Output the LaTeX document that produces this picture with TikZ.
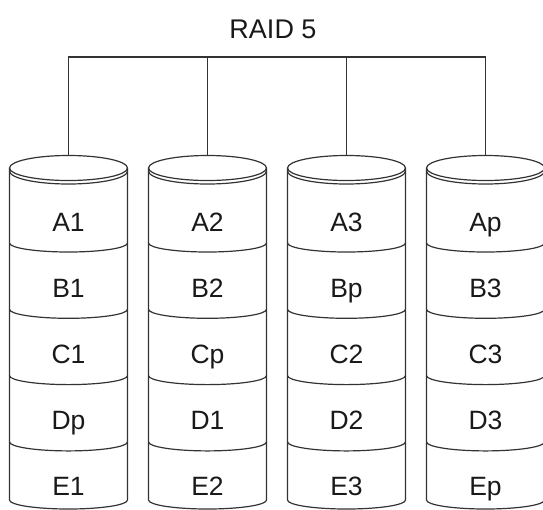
\documentclass[tikz,border=0pt]{standalone}
\usepackage{fontspec}
\setmainfont{Liberation Sans}
\begin{document}
\begin{tikzpicture}[x=1pt,y=-1pt,disk/.style={draw=black!80,line width=1.2pt},cell/.style={font=\fontsize{26.5}{30}\selectfont,text=black!90,inner sep=0pt,anchor=base},wire/.style={draw=black!80,line width=1.2pt}]
\useasboundingbox (0,0) rectangle (543,509);
\clip (0,0) rectangle (543,509);
\node[cell,font=\fontsize{27}{30}\selectfont] (title) at (273,38) {RAID 5};
% disks, one column each
\foreach \cx/\i/\labs in {68.5/1/{A1,B1,C1,Dp,E1},207.5/2/{A2,B2,Cp,D1,E2},346.5/3/{A3,Bp,C2,D2,E3},485.5/4/{Ap,B3,C3,D3,Ep}}{
  \draw[disk] (\cx,168) ellipse[x radius=59,y radius=12.5];
  \draw[disk] (\cx-59,171) arc[start angle=180,end angle=0,x radius=59,y radius=13];
  \draw[disk] (\cx-59,168) -- (\cx-59,500) arc[start angle=180,end angle=0,x radius=59,y radius=9] -- (\cx+59,168);
  \foreach \k in {0,...,3}
    \draw[disk] (\cx-59,{243+66.3*\k}) arc[start angle=180,end angle=0,x radius=59,y radius=9];
  \foreach \t [count=\r from 0] in \labs
    \node[cell] (c\i\r) at (\cx,{231.5+66*\r}) {\t};
  \coordinate (top\i) at (\cx,155.5);
  \coordinate (bar\i) at (\cx,57);
}
\draw[wire] (top1) -- (bar1) -- (bar4) -- (top4);
\draw[wire] (bar2) -- (top2);
\draw[wire] (bar3) -- (top3);
\end{tikzpicture}
\end{document}
